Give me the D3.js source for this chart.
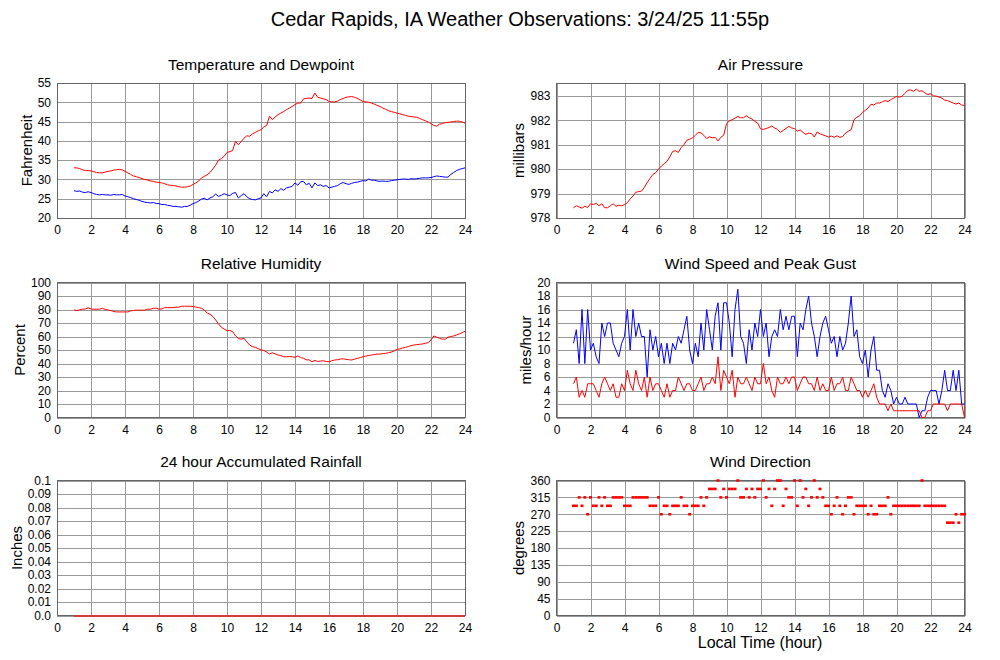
<!DOCTYPE html>
<html><head><meta charset="utf-8">
<script src="https://cdn.jsdelivr.net/npm/d3@7"></script>
<style>
body{margin:0;background:#fff}
svg{display:block}
text{font-family:"Liberation Sans",Arial,Helvetica,sans-serif;fill:#000}
</style>
</head><body>
<svg id="c" width="1000" height="660"></svg>
<script>
// ---------- DATA (10-minute observations starting 1:00, local time) ----------
const startHour = 1;
const stepHours = 1/6;

const tempF = [
33.0,33.0,32.8,32.5,32.3,32.3, 32.2,32.0,31.8,31.7,31.7,31.9, 32.1,32.2,32.4,32.5,32.6,32.5,
32.1,31.7,31.3,30.9,30.7,30.5, 30.2,30.0,29.8,29.6,29.5,29.3, 29.2,29.1,28.9,28.6,28.5,28.4,
28.3,28.1,28.0,28.0,28.1,28.3, 28.7,29.1,29.6,30.4,30.8,31.2, 31.8,32.7,33.7,35.0,35.4,36.0,
37.0,37.2,37.5,39.9,39.0,39.8, 40.7,41.3,41.2,41.8,42.2,42.6, 42.9,43.6,44.0,46.4,45.5,46.2,
46.8,47.2,47.6,48.1,48.5,48.9, 49.4,49.8,49.8,50.9,51.0,51.1, 51.0,52.4,51.3,51.1,50.9,50.7,
50.2,50.1,50.1,50.3,50.7,51.0, 51.3,51.4,51.5,51.3,51.0,50.6, 50.2,50.1,50.0,49.8,49.5,49.2,
48.9,48.5,48.2,47.8,47.6,47.4, 47.2,47.0,46.8,46.6,46.4,46.3, 46.2,46.1,45.8,45.5,45.2,44.9,
44.5,44.0,43.8,44.3,44.5,44.7, 44.8,44.9,45.0,45.1,45.1,44.9, 44.6];

const dewF = [
27.1,26.9,27.0,26.7,26.6,26.8, 26.6,26.3,26.1,26.0,26.1,26.0, 26.0,25.9,26.1,26.0,26.0,26.1,
25.7,25.5,25.3,25.0,24.8,24.6, 24.3,24.1,24.0,23.9,24.0,23.8, 23.7,23.5,23.5,23.3,23.2,23.0,
23.0,22.9,22.8,23.0,23.0,23.3, 23.7,24.0,24.4,24.9,25.1,24.7, 25.2,25.5,26.2,25.6,25.9,26.3,
26.0,25.8,26.4,26.6,25.2,25.8, 26.3,25.5,25.0,24.8,24.7,25.0, 25.2,26.3,25.5,26.9,26.5,27.3,
26.9,27.6,27.2,27.8,28.0,28.2, 29.1,28.5,29.4,29.5,28.6,29.0, 27.8,29.1,28.4,28.6,28.2,28.4,
27.8,28.0,28.2,28.4,28.9,29.2, 28.9,28.7,29.0,29.2,29.3,29.5, 29.7,29.6,30.1,29.8,29.8,29.6,
29.5,29.6,29.5,29.5,29.7,29.8, 29.9,30.0,30.1,30.1,30.0,30.2, 30.1,30.2,30.3,30.4,30.4,30.4,
30.5,30.7,30.9,30.8,30.7,30.6, 30.6,31.3,31.8,32.3,32.6,32.8, 33.0];

const pressureMb = [
978.42,978.50,978.45,978.40,978.48,978.43, 978.58,978.55,978.60,978.50,978.58,978.42,
978.42,978.50,978.58,978.48,978.52,978.50, 978.55,978.62,978.78,978.90,979.05,979.08,
979.10,979.25,979.45,979.62,979.78,979.85, 980.00,980.12,980.22,980.32,980.50,980.72,
980.75,980.68,980.88,981.00,981.18,981.22, 981.28,981.38,981.50,981.48,981.38,981.25,
981.32,981.28,981.30,981.15,981.30,981.38, 981.85,981.97,982.02,982.08,982.15,982.10,
982.10,982.18,982.10,982.05,981.95,981.88, 981.65,981.62,981.66,981.70,981.76,981.68,
981.62,981.50,981.58,981.66,981.75,981.68, 981.66,981.55,981.60,981.50,981.42,981.47,
981.45,981.31,981.52,981.44,981.40,981.36, 981.31,981.35,981.30,981.36,981.30,981.33,
981.47,981.55,981.61,982.02,982.12,982.18, 982.32,982.40,982.50,982.65,982.62,982.70,
982.70,982.75,982.80,982.76,982.84,982.90, 982.97,982.94,982.98,983.10,983.22,983.24,
983.18,983.27,983.18,983.20,983.12,983.05, 983.08,983.00,982.98,982.95,982.90,982.82,
982.80,982.75,982.70,982.66,982.70,982.62, 982.60];

const relHumidity = [
79.7,79.2,79.8,80.2,80.4,81.2, 80.4,80.2,80.2,80.2,80.9,80.0, 79.7,79.2,78.5,78.2,78.2,78.2,
78.2,78.2,79.0,79.3,79.5,79.5, 79.5,79.5,80.2,80.2,80.9,81.0, 80.2,80.4,81.4,81.4,81.4,81.4,
81.7,81.7,82.4,82.4,82.4,82.4, 82.2,81.8,81.4,80.9,79.5,77.5, 76.5,74.8,72.3,69.3,66.8,65.5,
64.4,64.4,63.6,60.5,58.5,58.0, 58.7,56.0,53.7,52.5,52.0,51.0, 50.0,49.6,48.5,47.0,48.0,47.2,
46.3,45.8,45.0,45.0,45.2,45.0, 44.6,45.5,44.5,43.8,42.8,42.6, 41.3,42.3,41.5,41.8,42.0,41.5,
41.3,42.0,42.6,42.8,43.3,43.5, 43.1,42.8,42.6,43.2,43.8,44.3, 45.0,45.5,46.0,46.3,46.6,47.0,
47.0,47.3,47.5,48.0,48.5,49.3, 50.5,50.8,51.5,52.0,52.5,53.3, 53.7,54.0,54.2,54.5,55.0,55.4,
57.4,60.4,59.5,58.7,58.0,58.0, 59.4,60.0,60.4,61.2,61.9,62.8, 63.9];

const windSpeed = [
5,6,3,4,3,5, 5,5,4,3,5,6, 5,4,5,3,3,5, 4,7,5,4,7,5, 4,6,3,6,4,5, 5,4,3,5,3,4,
4,6,5,4,5,5, 4,4,5,6,4,5, 5,6,5,9,4,7, 6,5,7,3,6,5, 5,6,5,4,6,5, 5,8,5,6,4,3,
6,5,5,6,5,6, 6,4,5,6,6,5, 5,4,6,4,5,4, 4,6,4,5,5,6, 4,4,6,5,4,4, 3,4,3,4,5,3,
2,2,2,1,2,1, 1,1,1,1,1,1, 1,1,1,0,0,1, 1,2,2,2,2,2, 1,2,2,2,2,2, 0];

const windGust = [
11,13,8,16,8,16, 10,11,9,8,14,12, 14,14,11,10,9,11, 12,16,10,16,12,14, 12,12,6,13,10,12,
9,11,8,11,8,11, 10,12,11,13,15,10, 8,11,9,14,10,16, 13,10,15,17,10,17, 17,14,9,16,19,12,
11,8,13,10,14,12, 16,12,14,9,12,13, 12,16,13,15,13,15, 15,9,14,13,16,18, 14,12,9,12,14,15,
13,11,12,9,12,10, 11,14,18,12,13,9, 8,10,6,10,12,7, 7,4,3,5,4,2, 3,2,2,3,2,2,
2,2,0,1,1,3, 4,4,4,2,4,7, 4,4,7,4,7,2, 2];

const windDir = [
292.5,292.5,315,292.5,315,270, 315,292.5,292.5,315,292.5,315, 292.5,292.5,315,315,315,315,
292.5,292.5,292.5,315,315,315, 315,315,315,292.5,292.5,292.5, 315,270,292.5,292.5,270,292.5,
292.5,292.5,315,292.5,292.5,270, 292.5,292.5,292.5,315,292.5,315, 337.5,337.5,337.5,360,315,337.5,
315,337.5,337.5,337.5,360,315, 315,337.5,315,337.5,315,337.5, 337.5,360,315,337.5,292.5,337.5,
360,360,292.5,337.5,315,315, 360,292.5,360,315,337.5,292.5, 315,360,315,337.5,315,292.5,
292.5,270,292.5,315,292.5,270, 292.5,315,315,270,292.5,292.5, 292.5,292.5,270,292.5,270,270,
292.5,292.5,292.5,315,270,292.5, 292.5,292.5,292.5,292.5,292.5,292.5, 292.5,292.5,292.5,360,292.5,292.5,
292.5,292.5,292.5,292.5,292.5,292.5, 247.5,247.5,247.5,270,247.5,270, 270];

const rainHours = [1, 24];
const rainInches = [0.0, 0.0];

const hourTicks = [0,2,4,6,8,10,12,14,16,18,20,22,24];
const tempTicks = [20,25,30,35,40,45,50,55];
const pressTicks = [978,979,980,981,982,983];
const rhTicks = [0,10,20,30,40,50,60,70,80,90,100];
const windTicks = [0,2,4,6,8,10,12,14,16,18,20];
const rainTicks = [0,0.01,0.02,0.03,0.04,0.05,0.06,0.07,0.08,0.09,0.1];
const rainTickLabels = ["0.0","0.01","0.02","0.03","0.04","0.05","0.06","0.07","0.08","0.09","0.1"];
const dirTicks = [0,45,90,135,180,225,270,315,360];

// ---------- LAYOUT ----------
const hours = tempF.map((_, i) => startHour + i * stepHours);
const svg = d3.select('#c');
const W = 408, H = 135;
const RED = '#ff0000', BLUE = '#0000ff';

svg.append('text').attr('x', 520).attr('y', 26).attr('text-anchor','middle')
  .style('font-size','20px').text('Cedar Rapids, IA Weather Observations: 3/24/25 11:55p');

const panels = [
 {title:'Temperature and Dewpoint', ylabel:'Fahrenheit', x0:57, y0:83, domain:[20,55], ticks:tempTicks,
  lines:[{t:hours,v:tempF,c:RED},{t:hours,v:dewF,c:BLUE}]},
 {title:'Air Pressure', ylabel:'millibars', x0:556.5, y0:83, domain:[978,983.52], ticks:pressTicks,
  lines:[{t:hours,v:pressureMb,c:RED}]},
 {title:'Relative Humidity', ylabel:'Percent', x0:57, y0:282.5, domain:[0,100], ticks:rhTicks,
  lines:[{t:hours,v:relHumidity,c:RED}]},
 {title:'Wind Speed and Peak Gust', ylabel:'miles/hour', x0:556.5, y0:282.5, domain:[0,20], ticks:windTicks,
  lines:[{t:hours,v:windGust,c:BLUE},{t:hours,v:windSpeed,c:RED}]},
 {title:'24 hour Accumulated Rainfall', ylabel:'Inches', x0:57, y0:480.5, domain:[0,0.1], ticks:rainTicks,
  labels:rainTickLabels, lines:[{t:rainHours,v:rainInches,c:'#d43a3a',w:2,crisp:true}]},
 {title:'Wind Direction', ylabel:'degrees', x0:556.5, y0:480.5, domain:[0,360], ticks:dirTicks,
  dots:{t:hours,v:windDir,c:RED}}
];

panels.forEach(p => {
  const g = svg.append('g');
  const x = d3.scaleLinear().domain([0,24]).range([p.x0, p.x0 + W]);
  const y = d3.scaleLinear().domain(p.domain).range([p.y0 + H, p.y0]);

  const yAx = g.append('g').attr('transform', `translate(${p.x0},0)`)
    .call(d3.axisLeft(y).tickValues(p.ticks).tickSize(-W).tickPadding(6)
      .tickFormat((d,i) => p.labels ? p.labels[i] : d));
  const xAx = g.append('g').attr('transform', `translate(0,${p.y0 + H})`)
    .call(d3.axisBottom(x).tickValues(hourTicks).tickSize(-H).tickPadding(7.5));
  [yAx, xAx].forEach(a => {
    a.select('.domain').remove();
    a.selectAll('line').attr('stroke','#999').attr('shape-rendering','crispEdges');
    a.selectAll('text').style('font-size','12px').attr('fill','#000');
  });

  g.append('rect').attr('x', p.x0).attr('y', p.y0).attr('width', W).attr('height', H)
    .attr('fill','none').attr('stroke','#666').attr('shape-rendering','crispEdges');

  g.append('text').attr('x', p.x0 + W/2).attr('y', p.y0 - 13.5).attr('text-anchor','middle')
    .style('font-size','15.5px').text(p.title);

  const bb = yAx.node().getBBox();
  const lx = bb.x + p.x0 - 6;
  g.append('text').attr('transform', `translate(${lx},${p.y0 + H/2}) rotate(-90)`)
    .attr('text-anchor','middle').style('font-size','15px').text(p.ylabel);

  (p.lines || []).forEach(s => {
    const line = d3.line().x((d,i) => x(s.t[i])).y(d => y(d));
    g.append('path').datum(s.v).attr('d', line).attr('fill','none')
      .attr('stroke', s.c).attr('stroke-width', s.w || 1)
      .attr('shape-rendering', s.crisp ? 'crispEdges' : 'auto');
  });

  if (p.dots) {
    const s = p.dots;
    g.selectAll('rect.dot').data(s.v).join('rect').attr('class','dot')
      .attr('x', (d,i) => x(s.t[i]) - 1.5).attr('y', d => y(d) - 1.3)
      .attr('width', 3).attr('height', 2.6).attr('fill', s.c);
  }
});

svg.append('text').attr('x', 760).attr('y', 648).attr('text-anchor','middle')
  .style('font-size','16px').text('Local Time (hour)');
</script>
</body></html>
